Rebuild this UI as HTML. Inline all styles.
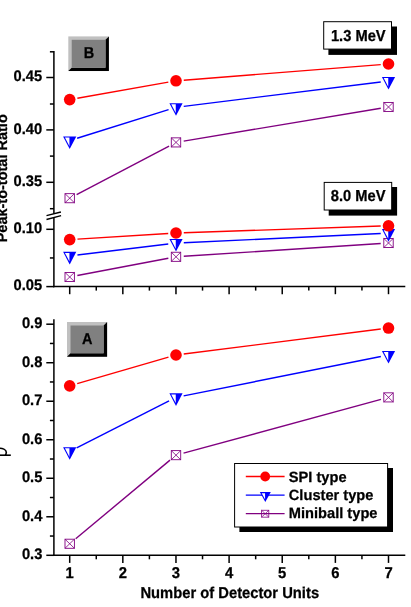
<!DOCTYPE html>
<html><head><meta charset="utf-8"><title>chart</title>
<style>html,body{margin:0;padding:0;background:#fff;}body{width:411px;height:607px;position:relative;overflow:hidden;font-family:"Liberation Sans",sans-serif;}</style>
</head><body>
<svg width="411" height="607" viewBox="0 0 411 607" style="position:absolute;left:0;top:0;display:block;will-change:transform" font-family="Liberation Sans, sans-serif" font-weight="bold" font-size="14.3px" fill="#000" text-rendering="geometricPrecision"><style>text{stroke:#000;stroke-width:0.25px}</style>
<rect width="411" height="607" fill="#fff"/>
<g stroke="#000" stroke-width="1.5" fill="none">
<path d="M53.9,51.05 V213.8 M53.9,217.6 V287.35"/>
<path d="M53.15,286.6 H405.3"/>
<path d="M46.5,215.7 L60.9,212.0 M46.5,219.5 L61.1,215.6" stroke-width="1.3"/>
<path d="M46.3,77.50 H53.9"/>
<path d="M46.3,129.90 H53.9"/>
<path d="M46.3,182.30 H53.9"/>
<path d="M49.9,51.80 H53.9"/>
<path d="M49.9,104.00 H53.9"/>
<path d="M49.9,156.10 H53.9"/>
<path d="M49.9,208.70 H53.9"/>
<path d="M46.3,229.30 H53.9"/>
<path d="M49.9,257.95 H53.9"/>
<path d="M46.3,286.6 H53.9"/>
<path d="M69.70,286.6 V294.20"/>
<path d="M122.83,286.6 V294.20"/>
<path d="M175.97,286.6 V294.20"/>
<path d="M229.10,286.6 V294.20"/>
<path d="M282.23,286.6 V294.20"/>
<path d="M335.37,286.6 V294.20"/>
<path d="M388.50,286.6 V294.20"/>
<path d="M96.27,286.6 V290.6"/>
<path d="M149.40,286.6 V290.6"/>
<path d="M202.53,286.6 V290.6"/>
<path d="M255.67,286.6 V290.6"/>
<path d="M308.80,286.6 V290.6"/>
<path d="M361.93,286.6 V290.6"/>
<path d="M53.9,319.3 V556.05"/>
<path d="M53.15,555.3 H405.3"/>
<path d="M46.3,324.20 H53.9"/>
<path d="M46.3,362.72 H53.9"/>
<path d="M46.3,401.23 H53.9"/>
<path d="M46.3,439.75 H53.9"/>
<path d="M46.3,478.27 H53.9"/>
<path d="M46.3,516.78 H53.9"/>
<path d="M46.3,555.30 H53.9"/>
<path d="M49.9,343.46 H53.9"/>
<path d="M49.9,381.97 H53.9"/>
<path d="M49.9,420.49 H53.9"/>
<path d="M49.9,459.01 H53.9"/>
<path d="M49.9,497.52 H53.9"/>
<path d="M49.9,536.04 H53.9"/>
<path d="M69.70,555.3 V562.9"/>
<path d="M122.83,555.3 V562.9"/>
<path d="M175.97,555.3 V562.9"/>
<path d="M229.10,555.3 V562.9"/>
<path d="M282.23,555.3 V562.9"/>
<path d="M335.37,555.3 V562.9"/>
<path d="M388.50,555.3 V562.9"/>
<path d="M96.27,555.3 V559.3"/>
<path d="M149.40,555.3 V559.3"/>
<path d="M202.53,555.3 V559.3"/>
<path d="M255.67,555.3 V559.3"/>
<path d="M308.80,555.3 V559.3"/>
<path d="M361.93,555.3 V559.3"/>
</g>
<text transform="translate(42.20,81.35) scale(1.0,1.04)" text-anchor="end"  font-size="14.7px">0.45</text>
<text transform="translate(42.20,133.75) scale(1.0,1.04)" text-anchor="end"  font-size="14.7px">0.40</text>
<text transform="translate(42.20,186.15) scale(1.0,1.04)" text-anchor="end"  font-size="14.7px">0.35</text>
<text transform="translate(42.20,233.15) scale(1.0,1.04)" text-anchor="end"  font-size="14.7px">0.10</text>
<text transform="translate(42.20,290.45) scale(1.0,1.04)" text-anchor="end"  font-size="14.7px">0.05</text>
<text transform="translate(42.35,328.05) scale(1.0,1.04)" text-anchor="end"  font-size="14.7px">0.9</text>
<text transform="translate(42.35,366.57) scale(1.0,1.04)" text-anchor="end"  font-size="14.7px">0.8</text>
<text transform="translate(42.35,405.08) scale(1.0,1.04)" text-anchor="end"  font-size="14.7px">0.7</text>
<text transform="translate(42.35,443.60) scale(1.0,1.04)" text-anchor="end"  font-size="14.7px">0.6</text>
<text transform="translate(42.35,482.12) scale(1.0,1.04)" text-anchor="end"  font-size="14.7px">0.5</text>
<text transform="translate(42.35,520.63) scale(1.0,1.04)" text-anchor="end"  font-size="14.7px">0.4</text>
<text transform="translate(42.35,559.15) scale(1.0,1.04)" text-anchor="end"  font-size="14.7px">0.3</text>
<text transform="translate(69.70,578.30) scale(1.0,1.06)" text-anchor="middle"  font-size="14.8px">1</text>
<text transform="translate(122.83,578.30) scale(1.0,1.06)" text-anchor="middle"  font-size="14.8px">2</text>
<text transform="translate(175.97,578.30) scale(1.0,1.06)" text-anchor="middle"  font-size="14.8px">3</text>
<text transform="translate(229.10,578.30) scale(1.0,1.06)" text-anchor="middle"  font-size="14.8px">4</text>
<text transform="translate(282.23,578.30) scale(1.0,1.06)" text-anchor="middle"  font-size="14.8px">5</text>
<text transform="translate(335.37,578.30) scale(1.0,1.06)" text-anchor="middle"  font-size="14.8px">6</text>
<text transform="translate(388.50,578.30) scale(1.0,1.06)" text-anchor="middle"  font-size="14.8px">7</text>
<text transform="translate(229.75,597.60) scale(1.0,1.06)" text-anchor="middle"  font-size="14.75px">Number of Detector Units</text>
<text transform="translate(6.8,178.3) rotate(-90) scale(1.0,1.02)" text-anchor="middle" font-size="14.5px">Peak-to-total Ratio</text>
<g stroke="#000" fill="none" stroke-width="1.6"><path d="M-2,455.2 H10.8"/><path d="M-2,448.4 C2.5,447.8 6.4,449.6 6.3,452.4 C6.2,453.8 5.8,454.8 5.2,455.2"/></g>
<line x1="76.61" y1="194.57" x2="169.09" y2="146.03" stroke="#800080" stroke-width="1.4"/>
<line x1="183.69" y1="141.12" x2="380.81" y2="108.28" stroke="#800080" stroke-width="1.4"/>
<g stroke="#800080" stroke-width="0.9" fill="none"><rect x="65.00" y="193.65" width="9.4" height="9.1" fill="#fff"/><path d="M65.00,193.65 L74.40,202.75 M74.40,193.65 L65.00,202.75" stroke-width="0.81"/></g>
<g stroke="#800080" stroke-width="0.9" fill="none"><rect x="171.30" y="137.85" width="9.4" height="9.1" fill="#fff"/><path d="M171.30,137.85 L180.70,146.95 M180.70,137.85 L171.30,146.95" stroke-width="0.81"/></g>
<g stroke="#800080" stroke-width="0.9" fill="none"><rect x="383.80" y="102.45" width="9.4" height="9.1" fill="#fff"/><path d="M383.80,102.45 L393.20,111.55 M393.20,102.45 L383.80,111.55" stroke-width="0.81"/></g>
<line x1="77.14" y1="138.27" x2="168.56" y2="109.63" stroke="#0000ff" stroke-width="1.4"/>
<line x1="183.74" y1="106.34" x2="380.76" y2="81.96" stroke="#0000ff" stroke-width="1.4"/>
<path d="M63.10,136.50 L76.30,136.50 L69.70,149.10 Z" fill="#0000ff"/>
<path d="M64.92,137.60 L69.45,137.60 L69.45,146.25 Z" fill="#fff"/>
<path d="M169.40,103.20 L182.60,103.20 L176.00,115.80 Z" fill="#0000ff"/>
<path d="M171.22,104.30 L175.75,104.30 L175.75,112.95 Z" fill="#fff"/>
<path d="M381.90,76.90 L395.10,76.90 L388.50,89.50 Z" fill="#0000ff"/>
<path d="M383.72,78.00 L388.25,78.00 L388.25,86.65 Z" fill="#fff"/>
<line x1="77.38" y1="98.24" x2="168.32" y2="82.16" stroke="#ff0000" stroke-width="1.4"/>
<line x1="183.78" y1="80.19" x2="380.72" y2="64.61" stroke="#ff0000" stroke-width="1.4"/>
<circle cx="69.70" cy="99.60" r="5.8" fill="#ff0000"/>
<circle cx="176.00" cy="80.80" r="5.8" fill="#ff0000"/>
<circle cx="388.50" cy="64.00" r="5.8" fill="#ff0000"/>
<line x1="77.36" y1="275.54" x2="168.34" y2="258.26" stroke="#800080" stroke-width="1.4"/>
<line x1="183.78" y1="256.29" x2="380.72" y2="243.51" stroke="#800080" stroke-width="1.4"/>
<g stroke="#800080" stroke-width="0.9" fill="none"><rect x="65.00" y="272.45" width="9.4" height="9.1" fill="#fff"/><path d="M65.00,272.45 L74.40,281.55 M74.40,272.45 L65.00,281.55" stroke-width="0.81"/></g>
<g stroke="#800080" stroke-width="0.9" fill="none"><rect x="171.30" y="252.25" width="9.4" height="9.1" fill="#fff"/><path d="M171.30,252.25 L180.70,261.35 M180.70,252.25 L171.30,261.35" stroke-width="0.81"/></g>
<g stroke="#800080" stroke-width="0.9" fill="none"><rect x="383.80" y="238.45" width="9.4" height="9.1" fill="#fff"/><path d="M383.80,238.45 L393.20,247.55 M393.20,238.45 L383.80,247.55" stroke-width="0.81"/></g>
<line x1="77.44" y1="254.97" x2="168.26" y2="244.03" stroke="#0000ff" stroke-width="1.4"/>
<line x1="183.79" y1="242.74" x2="380.71" y2="233.56" stroke="#0000ff" stroke-width="1.4"/>
<path d="M63.10,251.80 L76.30,251.80 L69.70,264.40 Z" fill="#0000ff"/>
<path d="M64.92,252.90 L69.45,252.90 L69.45,261.55 Z" fill="#fff"/>
<path d="M169.40,239.00 L182.60,239.00 L176.00,251.60 Z" fill="#0000ff"/>
<path d="M171.22,240.10 L175.75,240.10 L175.75,248.75 Z" fill="#fff"/>
<path d="M381.90,229.10 L395.10,229.10 L388.50,241.70 Z" fill="#0000ff"/>
<path d="M383.72,230.20 L388.25,230.20 L388.25,238.85 Z" fill="#fff"/>
<line x1="77.49" y1="239.12" x2="168.21" y2="233.48" stroke="#ff0000" stroke-width="1.4"/>
<line x1="183.80" y1="232.74" x2="380.70" y2="226.06" stroke="#ff0000" stroke-width="1.4"/>
<circle cx="69.70" cy="239.60" r="5.8" fill="#ff0000"/>
<circle cx="176.00" cy="233.00" r="5.8" fill="#ff0000"/>
<circle cx="388.50" cy="225.80" r="5.8" fill="#ff0000"/>
<line x1="75.69" y1="538.75" x2="170.01" y2="460.15" stroke="#800080" stroke-width="1.4"/>
<line x1="183.53" y1="453.11" x2="380.97" y2="399.43" stroke="#800080" stroke-width="1.4"/>
<g stroke="#800080" stroke-width="0.9" fill="none"><rect x="65.00" y="539.20" width="9.4" height="9.1" fill="#fff"/><path d="M65.00,539.20 L74.40,548.29 M74.40,539.20 L65.00,548.29" stroke-width="0.81"/></g>
<g stroke="#800080" stroke-width="0.9" fill="none"><rect x="171.30" y="450.61" width="9.4" height="9.1" fill="#fff"/><path d="M171.30,450.61 L180.70,459.71 M180.70,450.61 L171.30,459.71" stroke-width="0.81"/></g>
<g stroke="#800080" stroke-width="0.9" fill="none"><rect x="383.80" y="392.83" width="9.4" height="9.1" fill="#fff"/><path d="M383.80,392.83 L393.20,401.93 M393.20,392.83 L383.80,401.93" stroke-width="0.81"/></g>
<line x1="76.66" y1="447.78" x2="169.04" y2="400.91" stroke="#0000ff" stroke-width="1.4"/>
<line x1="183.65" y1="395.86" x2="380.85" y2="356.54" stroke="#0000ff" stroke-width="1.4"/>
<path d="M63.10,447.20 L76.30,447.20 L69.70,459.81 Z" fill="#0000ff"/>
<path d="M64.92,448.31 L69.45,448.31 L69.45,456.96 Z" fill="#fff"/>
<path d="M169.40,393.28 L182.60,393.28 L176.00,405.88 Z" fill="#0000ff"/>
<path d="M171.22,394.38 L175.75,394.38 L175.75,403.03 Z" fill="#fff"/>
<path d="M381.90,350.91 L395.10,350.91 L388.50,363.51 Z" fill="#0000ff"/>
<path d="M383.72,352.01 L388.25,352.01 L388.25,360.67 Z" fill="#fff"/>
<line x1="77.19" y1="383.66" x2="168.51" y2="357.18" stroke="#ff0000" stroke-width="1.4"/>
<line x1="183.74" y1="354.03" x2="380.76" y2="329.03" stroke="#ff0000" stroke-width="1.4"/>
<circle cx="69.70" cy="385.83" r="5.8" fill="#ff0000"/>
<circle cx="176.00" cy="355.01" r="5.8" fill="#ff0000"/>
<circle cx="388.50" cy="328.05" r="5.8" fill="#ff0000"/>
<rect x="328.4" y="26.5" width="68.60" height="28.40" fill="#000"/>
<rect x="323.7" y="21.7" width="67.80" height="27.40" fill="#fff" stroke="#000" stroke-width="1.0"/>
<text transform="translate(358.30,40.70) scale(1.0,1.08)" text-anchor="middle"  font-size="14.7px">1.3 MeV</text>
<rect x="328.7" y="187.0" width="68.40" height="28.60" fill="#000"/>
<rect x="324.2" y="182.4" width="67.50" height="27.60" fill="#fff" stroke="#000" stroke-width="1.0"/>
<text transform="translate(358.20,201.30) scale(1.0,1.085)" text-anchor="middle"  font-size="14.7px">8.0 MeV</text>
<rect x="239.4" y="468.0" width="153.60" height="64.00" fill="#000"/>
<rect x="234.6" y="463.5" width="153.00" height="63.50" fill="#fff" stroke="#000" stroke-width="1.0"/>
<line x1="245.8" y1="476.5" x2="284.6" y2="476.5" stroke="#ff0000" stroke-width="1.3"/>
<circle cx="265.20" cy="476.50" r="4.9" fill="#ff0000"/>
<line x1="245.8" y1="495.1" x2="284.6" y2="495.1" stroke="#0000ff" stroke-width="1.3"/>
<path d="M259.80,492.10 L270.80,492.10 L265.30,501.90 Z" fill="#0000ff"/>
<path d="M261.68,493.20 L265.05,493.20 L265.05,499.21 Z" fill="#fff"/>
<line x1="245.8" y1="513.7" x2="284.6" y2="513.7" stroke="#800080" stroke-width="1.3"/>
<g stroke="#800080" stroke-width="0.8" fill="none"><rect x="261.60" y="510.25" width="7.2" height="6.9" fill="none"/><path d="M261.60,510.25 L268.80,517.15 M268.80,510.25 L261.60,517.15" stroke-width="0.72"/></g>
<text transform="translate(288.80,481.50) scale(1.0,1.01)" text-anchor="start"  font-size="14.65px">SPI type</text>
<text transform="translate(288.80,499.80) scale(1.0,1.01)" text-anchor="start"  font-size="14.65px">Cluster type</text>
<text transform="translate(288.80,518.40) scale(1.0,1.01)" text-anchor="start"  font-size="14.65px">Miniball type</text>
<rect x="68.3" y="36.4" width="40.60" height="34.70" fill="#c0c0c0"/>
<path d="M108.9,36.4 L108.9,71.1 L68.3,71.1 L71.7,67.70 L105.5,67.70 L105.5,39.8 Z" fill="#000"/>
<rect x="71.7" y="39.8" width="33.80" height="27.90" fill="#808080"/>
<text transform="translate(88.90,58.25) scale(1.0,1.09)" text-anchor="middle"  font-size="14.5px">B</text>
<rect x="67.0" y="322.0" width="40.10" height="34.80" fill="#c0c0c0"/>
<path d="M107.1,322.0 L107.1,356.8 L67.0,356.8 L70.5,353.3 L103.6,353.3 L103.6,325.5 Z" fill="#000"/>
<rect x="70.5" y="325.5" width="33.10" height="27.80" fill="#808080"/>
<text transform="translate(87.35,343.90) scale(1.0,1.09)" text-anchor="middle"  font-size="14.5px">A</text>
</svg>
</body></html>
